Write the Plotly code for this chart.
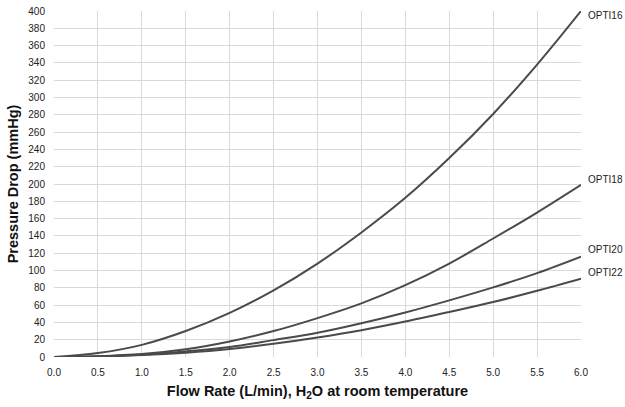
import plotly.graph_objects as go

flow = [0, 0.5, 1.0, 1.5, 2.0, 2.5, 3.0, 3.5, 4.0, 4.5, 5.0, 5.5, 6.0]
opti16 = [0, 4.5, 14, 30, 51, 77, 108, 144, 184, 230, 281, 338, 400]
opti18 = [0, 1, 3.5, 9, 18, 30, 45, 62, 83, 108, 137, 167, 199]
opti20 = [0, 0.7, 2.5, 6.5, 11.5, 19.5, 28, 39, 51.5, 65.5, 80.5, 97, 116]
opti22 = [0, 0.6, 2.2, 5, 9.2, 15.2, 22.5, 31, 41, 52, 63.5, 76.5, 90.5]
series = [("OPTI16", opti16), ("OPTI18", opti18), ("OPTI20", opti20), ("OPTI22", opti22)]
xticks = [0, 0.5, 1.0, 1.5, 2.0, 2.5, 3.0, 3.5, 4.0, 4.5, 5.0, 5.5, 6.0]

# label pixel shifts (style, not data)
label_yshift = {"OPTI16": -4, "OPTI18": 5, "OPTI20": 7, "OPTI22": 6}

fig = go.Figure()
for name, vals in series:
    fig.add_trace(go.Scatter(x=flow, y=vals, mode="lines", name=name,
                             line=dict(color="#4a4a4a", width=2, shape="spline"),
                             showlegend=False))
    fig.add_annotation(x=flow[-1], y=vals[-1], xref="x", yref="y",
                       text=name, showarrow=False, xanchor="left", xshift=5,
                       yshift=label_yshift[name], font=dict(size=10, color="#222"))

fig.update_layout(
    width=625, height=407,
    margin=dict(l=54, r=44, t=11, b=50, autoexpand=False),
    paper_bgcolor="white", plot_bgcolor="white",
    font=dict(family="Liberation Sans, Arial, sans-serif", color="#222", size=10),
)
fig.update_xaxes(range=[0, 6], tickvals=xticks,
                 ticktext=[f"{v:.1f}" for v in xticks],
                 showgrid=True, gridcolor="#d9d9d9", gridwidth=1, zeroline=False,
                 showline=False, ticks="", tickfont=dict(size=10, color="#222"),
                 ticklabelstandoff=8, automargin=False,
                 title=dict(text="<b>Flow Rate (L/min), H<sub>2</sub>O at room temperature</b>",
                            font=dict(size=14.5, color="#111"), standoff=8))
fig.update_yaxes(range=[0, 400], dtick=20, showgrid=True, gridcolor="#d9d9d9", gridwidth=1,
                 zeroline=False, showline=False, ticks="", tickfont=dict(size=10, color="#222"),
                 ticklabelstandoff=8, automargin=False,
                 title=dict(text="<b>Pressure Drop (mmHg)</b>", font=dict(size=14.5, color="#111"),
                            standoff=6))

# remove the page's default body margin so the 625x407 figure fills the window
fig.write_html("out.html", config={"displayModeBar": False},
               post_script="document.body.style.margin='0';document.body.style.overflow='hidden';")
